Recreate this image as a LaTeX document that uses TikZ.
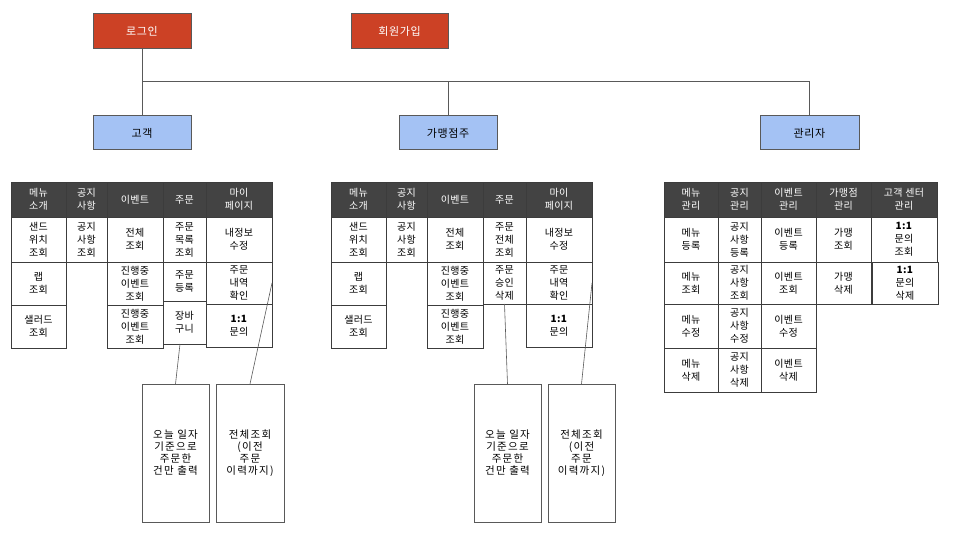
\documentclass[tikz,border=0pt]{standalone}
\usepackage{fontspec}
\setmainfont{Noto Sans CJK KR}
\definecolor{redbox}{HTML}{CC4125}
\definecolor{bluebox}{HTML}{A4C2F4}
\definecolor{headfill}{HTML}{434343}
\definecolor{edge}{HTML}{595959}
\definecolor{tedge}{HTML}{3C3C3C}
\newcommand\tcell[7]{\node[#1, anchor=north west, minimum width={(#5-#3)*1pt}, minimum height={(#6-#4)*1pt}] (#2) at (#3,#4) {#7};}
\tikzset{
  topbox/.style={draw=edge, line width=1pt, inner sep=0pt, outer sep=0pt, font=\fontsize{11}{12}\selectfont\addfontfeatures{LetterSpace=6}},
  redtop/.style={topbox, fill=redbox, text=white},
  bluetop/.style={topbox, fill=bluebox, text=black},
  basecell/.style={draw=tedge, line width=0.9pt, inner sep=0pt, outer sep=0pt, align=center, font=\fontsize{10}{13}\selectfont\addfontfeatures{LetterSpace=4}},
  headcell/.style={basecell, fill=headfill, text=white},
  bodycell/.style={basecell, fill=white, text=black},
  notecell/.style={basecell, draw=edge, font=\fontsize{10.5}{12}\selectfont\addfontfeatures{LetterSpace=12}},
  conn/.style={draw=edge, line width=1pt},
  noteline/.style={draw=edge, line width=0.6pt}
}
\begin{document}
\begin{tikzpicture}[x=1pt, y=-1pt]
\useasboundingbox (0,0) rectangle (960,540);
% top level
\tcell{redtop}{login}{93}{14}{191}{49}{로그인}
\tcell{redtop}{join}{351}{14}{448}{49}{회원가입}
\tcell{bluetop}{cust}{93}{116}{191}{150}{고객}
\tcell{bluetop}{owner}{399}{116}{497}{150}{가맹점주}
\tcell{bluetop}{admin}{760}{116}{859}{150}{관리자}
\coordinate (bus) at (0,82);
\draw[conn] (login.south) -- (cust.north);
\draw[conn] (login.south |- bus) -| (admin.north);
\draw[conn] (owner.north |- bus) -- (owner.north);

% ---------- customer table ----------
\tcell{headcell}{ch1}{11}{182}{66}{217}{메뉴\\소개}
\tcell{headcell}{ch2}{66}{182}{107}{217}{공지\\사항}
\tcell{headcell}{ch3}{107}{182}{163}{217}{이벤트}
\tcell{headcell}{ch4}{163}{182}{206}{217}{주문}
\tcell{headcell}{ch5}{206}{182}{272}{217}{마이\\페이지}
\tcell{bodycell}{c11}{11}{217}{66}{262}{샌드\\위치\\조회}
\tcell{bodycell}{c12}{11}{262}{66}{305}{랩\\조회}
\tcell{bodycell}{c13}{11}{305}{66}{348}{샐러드\\조회}
\tcell{bodycell}{c21}{66}{217}{107}{262}{공지\\사항\\조회}
\tcell{bodycell}{c31}{107}{217}{163}{262}{전체\\조회}
\tcell{bodycell}{c32}{107}{262}{163}{305}{진행중\\이벤트\\조회}
\tcell{bodycell}{c33}{107}{305}{163}{348}{진행중\\이벤트\\조회}
\tcell{bodycell}{c41}{163}{217}{206}{262}{주문\\목록\\조회}
\tcell{bodycell}{c42}{163}{262}{206}{301}{주문\\등록}
\tcell{bodycell}{c43}{163}{301}{206}{344}{장바\\구니}
\tcell{bodycell}{c51}{206}{217}{272}{262}{내정보\\수정}
\tcell{bodycell}{c52}{206}{262}{272}{304}{주문\\내역\\확인}
\tcell{bodycell}{c53}{206}{304}{272}{347}{\textbf{1:1}\\문의}
\tcell{notecell}{cn1}{142}{384}{209}{522}{오늘 일자\\기준으로\\주문한\\건만 출력}
\tcell{notecell}{cn2}{216}{384}{284}{522}{전체조회\\(이전\\주문\\이력까지)}
\coordinate (cbasket) at (180,344);
\draw[noteline] (cbasket) -- (cn1.north);
\draw[noteline] (c52.east) -- (cn2.north);

% ---------- owner table ----------
\tcell{headcell}{oh1}{331}{182}{386}{217}{메뉴\\소개}
\tcell{headcell}{oh2}{386}{182}{427}{217}{공지\\사항}
\tcell{headcell}{oh3}{427}{182}{483}{217}{이벤트}
\tcell{headcell}{oh4}{483}{182}{526}{217}{주문}
\tcell{headcell}{oh5}{526}{182}{592}{217}{마이\\페이지}
\tcell{bodycell}{o11}{331}{217}{386}{262}{샌드\\위치\\조회}
\tcell{bodycell}{o12}{331}{262}{386}{305}{랩\\조회}
\tcell{bodycell}{o13}{331}{305}{386}{348}{샐러드\\조회}
\tcell{bodycell}{o21}{386}{217}{427}{262}{공지\\사항\\조회}
\tcell{bodycell}{o31}{427}{217}{483}{262}{전체\\조회}
\tcell{bodycell}{o32}{427}{262}{483}{305}{진행중\\이벤트\\조회}
\tcell{bodycell}{o33}{427}{305}{483}{348}{진행중\\이벤트\\조회}
\tcell{bodycell}{o41}{483}{217}{526}{262}{주문\\전체\\조회}
\tcell{bodycell}{o42}{483}{262}{526}{304}{주문\\승인\\삭제}
\tcell{bodycell}{o51}{526}{217}{592}{262}{내정보\\수정}
\tcell{bodycell}{o52}{526}{262}{592}{304}{주문\\내역\\확인}
\tcell{bodycell}{o53}{526}{304}{592}{347}{\textbf{1:1}\\문의}
\tcell{notecell}{on1}{474}{384}{541}{522}{오늘 일자\\기준으로\\주문한\\건만 출력}
\tcell{notecell}{on2}{548}{384}{615}{522}{전체조회\\(이전\\주문\\이력까지)}
\draw[noteline] (o42.south) -- (on1.north);
\draw[noteline] (o52.east) -- (on2.north);

% ---------- admin table ----------
\tcell{headcell}{ah1}{664}{182}{718}{217}{메뉴\\관리}
\tcell{headcell}{ah2}{718}{182}{761}{217}{공지\\관리}
\tcell{headcell}{ah3}{761}{182}{816}{217}{이벤트\\관리}
\tcell{headcell}{ah4}{816}{182}{871}{217}{가맹점\\관리}
\tcell{headcell}{ah5}{871}{182}{937}{217}{고객 센터\\관리}
\tcell{bodycell}{a11}{664}{217}{718}{262}{메뉴\\등록}
\tcell{bodycell}{a12}{664}{262}{718}{304}{메뉴\\조회}
\tcell{bodycell}{a13}{664}{304}{718}{348}{메뉴\\수정}
\tcell{bodycell}{a14}{664}{348}{718}{392}{메뉴\\삭제}
\tcell{bodycell}{a21}{718}{217}{761}{262}{공지\\사항\\등록}
\tcell{bodycell}{a22}{718}{262}{761}{304}{공지\\사항\\조회}
\tcell{bodycell}{a23}{718}{304}{761}{348}{공지\\사항\\수정}
\tcell{bodycell}{a24}{718}{348}{761}{392}{공지\\사항\\삭제}
\tcell{bodycell}{a31}{761}{217}{816}{262}{이벤트\\등록}
\tcell{bodycell}{a32}{761}{262}{816}{304}{이벤트\\조회}
\tcell{bodycell}{a33}{761}{304}{816}{348}{이벤트\\수정}
\tcell{bodycell}{a34}{761}{348}{816}{392}{이벤트\\삭제}
\tcell{bodycell}{a41}{816}{217}{871}{262}{가맹\\조회}
\tcell{bodycell}{a42}{816}{262}{871}{304}{가맹\\삭제}
\tcell{bodycell}{a51}{871}{217}{937}{262}{\textbf{1:1}\\문의\\조회}
\tcell{bodycell}{a52}{872}{262}{938}{304}{\textbf{1:1}\\문의\\삭제}
\end{tikzpicture}
\end{document}
